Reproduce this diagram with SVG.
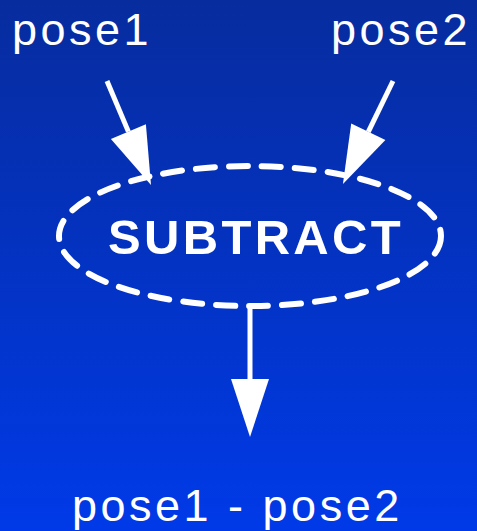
<svg xmlns="http://www.w3.org/2000/svg" width="477" height="531" viewBox="0 0 477 531">
<defs>
<linearGradient id="bg" x1="0" y1="0" x2="0" y2="1">
<stop offset="0" stop-color="#072c9e"/>
<stop offset="1" stop-color="#003ae8"/>
</linearGradient>
<marker id="ah" markerUnits="userSpaceOnUse" markerWidth="58" markerHeight="38" refX="0" refY="19" orient="auto" viewBox="0 0 58 38" overflow="visible">
<path d="M0,0 L58,19 L0,38 Z" fill="#fff"/>
</marker>
<style>
.lbl{font-family:"Liberation Sans",Arial,sans-serif;fill:#fff;font-size:45px;letter-spacing:3.5px}
.node{font-family:"Liberation Sans",Arial,sans-serif;fill:#fff;font-size:49px;font-weight:bold;letter-spacing:3.3px}
.conn{stroke:#fff;stroke-width:5;fill:none;marker-end:url(#ah)}
</style>
</defs>
<rect width="477" height="531" fill="url(#bg)"/>
<g id="pose1"><text class="lbl" x="12" y="45">pose1</text></g>
<g id="pose2"><text class="lbl" x="331" y="45">pose2</text></g>
<g id="subtract">
<ellipse cx="250" cy="236" rx="191" ry="70" fill="none" stroke="#fff" stroke-width="6" stroke-dasharray="19 14" stroke-linecap="round"/>
<text class="node" x="256" y="254" text-anchor="middle">SUBTRACT</text>
</g>
<g id="result"><text class="lbl" x="72" y="521">pose1 - pose2</text></g>
<g id="connectors">
<path class="conn" d="M107,81 L128.4,131.6"/>
<path class="conn" d="M393,81 L368.3,131.8"/>
<path class="conn" d="M250,306 L250,379"/>
</g>
</svg>
